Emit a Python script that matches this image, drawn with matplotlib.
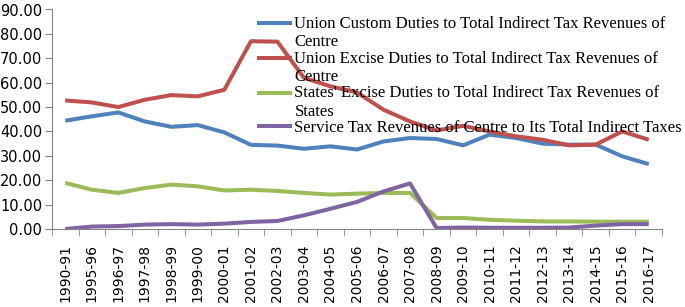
import matplotlib
matplotlib.use("Agg")
import matplotlib.pyplot as plt
import numpy as np

years = ["1990-91", "1995-96", "1996-97", "1997-98", "1998-99", "1999-00", "2000-01",
         "2001-02", "2002-03", "2003-04", "2004-05", "2005-06", "2006-07", "2007-08",
         "2008-09", "2009-10", "2010-11", "2011-12", "2012-13", "2013-14", "2014-15",
         "2015-16", "2016-17"]

custom = [44.4, 46.2, 47.8, 44.1, 41.9, 42.6, 39.6, 34.5, 34.2, 32.9, 33.9, 32.6,
          35.9, 37.3, 36.9, 34.3, 38.7, 37.3, 35.0, 34.6, 34.6, 29.8, 26.6]
excise = [52.7, 51.9, 50.0, 53.0, 54.9, 54.4, 57.1, 77.0, 76.8, 62.0, 58.5, 56.0,
          48.9, 44.1, 40.4, 42.3, 40.0, 38.0, 36.6, 34.3, 34.6, 40.0, 36.6]
states = [18.9, 16.1, 14.8, 16.8, 18.2, 17.5, 15.8, 16.1, 15.6, 14.8, 14.1, 14.5,
          14.8, 14.8, 4.5, 4.5, 3.8, 3.4, 3.1, 3.1, 3.0, 3.0, 3.0]
service = [0.0, 1.0, 1.2, 1.8, 2.0, 1.8, 2.2, 2.9, 3.3, 5.6, 8.3, 11.1,
           15.4, 18.7, 0.4, 0.6, 0.5, 0.5, 0.5, 0.6, 1.4, 2.0, 2.0]

labels = ["Union Custom Duties to Total Indirect Tax Revenues of\nCentre",
          "Union Excise Duties to Total Indirect Tax Revenues of\nCentre",
          "States' Excise Duties to Total Indirect Tax Revenues of\nStates",
          "Service Tax Revenues of Centre to Its Total Indirect Taxes"]
colors = ["#4F81BD", "#C0504D", "#9BBB59", "#8064A2"]

fig = plt.figure(figsize=(6.85, 3.07), dpi=100)
ax = fig.add_axes([52/685, 1 - 229/307, 610/685, 219.5/307])

x = np.arange(len(years))
for vals, lab, col in zip([custom, excise, states, service], labels, colors):
    ax.plot(x, vals, color=col, lw=2.9, label=lab, solid_capstyle="butt")

ax.set_xlim(-0.5, len(years) - 0.5)
ax.set_ylim(0, 90)
ax.set_yticks(np.arange(0, 91, 10))
ax.set_yticklabels([f"{v:.2f}" for v in np.arange(0, 91, 10)])
ax.set_xticks(x)
ax.set_xticklabels(years, rotation=90)
ax.set_xticks(np.arange(-0.5, len(years), 1), minor=True)
ax.tick_params(axis="x", which="major", length=0, pad=11, labelsize=10)
ax.tick_params(axis="x", which="minor", length=5, color="#868686", direction="out")
ax.tick_params(axis="y", length=5, color="#868686", direction="out", labelsize=10.5, pad=2)

for s in ["top", "right"]:
    ax.spines[s].set_visible(False)
for s in ["left", "bottom"]:
    ax.spines[s].set_color("#868686")

fs = 12
leg = fig.legend(loc="upper left", bbox_to_anchor=(257/685, 1 - 16/307),
                 bbox_transform=fig.transFigure, frameon=False,
                 prop={"family": "Liberation Serif", "size": fs},
                 handlelength=2.1, handletextpad=0.15, labelspacing=0.02,
                 borderpad=0, borderaxespad=0)
for ln, lab in zip(leg.get_lines(), labels):
    ln.set_linewidth(2.9)
    if "\n" in lab:
        ln.set_ydata(np.asarray(ln.get_ydata()) + 0.6 * fs)

fig.savefig("out.png", dpi=100)
